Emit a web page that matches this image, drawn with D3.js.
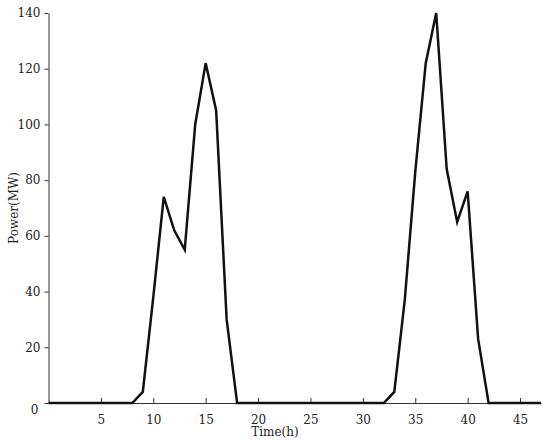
<!DOCTYPE html><html><head><script src="https://cdn.jsdelivr.net/npm/d3@7"></script>
<style>body{margin:0;background:#fff}text{font-family:"DejaVu Serif",serif;font-size:12px;fill:#222}</style></head><body>
<svg id="c" width="550" height="444"></svg>
<script>
const hours=d3.range(0,48);
const power=[0,0,0,0,0,0,0,0,0,4,38,74,62,55,100,122,105,30,0,0,0,0,0,0,0,0,0,0,0,0,0,0,0,4,37,83,122,140,84,65,76,23,0,0,0,0,0,0];
const xTicks=[5,10,15,20,25,30,35,40,45];
const yTicks=[0,20,40,60,80,100,120,140];
const svg=d3.select("#c");
const x=d3.scaleLinear().domain([0,47]).range([48.5,541]);
const y=d3.scaleLinear().domain([0,140]).range([403,13]);
const xa=svg.append("g").attr("transform","translate(0,403)").call(d3.axisBottom(x).tickValues(xTicks).tickSizeInner(-5).tickSizeOuter(0).tickPadding(12));
const ya=svg.append("g").attr("transform","translate(48.5,0)").call(d3.axisLeft(y).tickValues(yTicks).tickSizeInner(4).tickSizeOuter(0).tickPadding(4));
[xa,ya].forEach(a=>{a.selectAll("path,line").attr("stroke","#333");a.selectAll("text").style("font-family","DejaVu Serif").style("font-size","12px").attr("fill","#222");});
ya.selectAll(".tick").filter(d=>d===0).select("text").attr("dy","0.9em").attr("x",-10);
svg.append("path").datum(power).attr("fill","none").attr("stroke","#111").attr("stroke-width",2.5).attr("stroke-linejoin","miter")
 .attr("d",d3.line().x((d,i)=>x(hours[i])).y(d=>y(d)));
svg.append("text").attr("x",275).attr("y",436).attr("text-anchor","middle").text("Time(h)");
svg.append("text").attr("transform","translate(18,208) rotate(-90)").attr("text-anchor","middle").text("Power(MW)");
</script></body></html>
